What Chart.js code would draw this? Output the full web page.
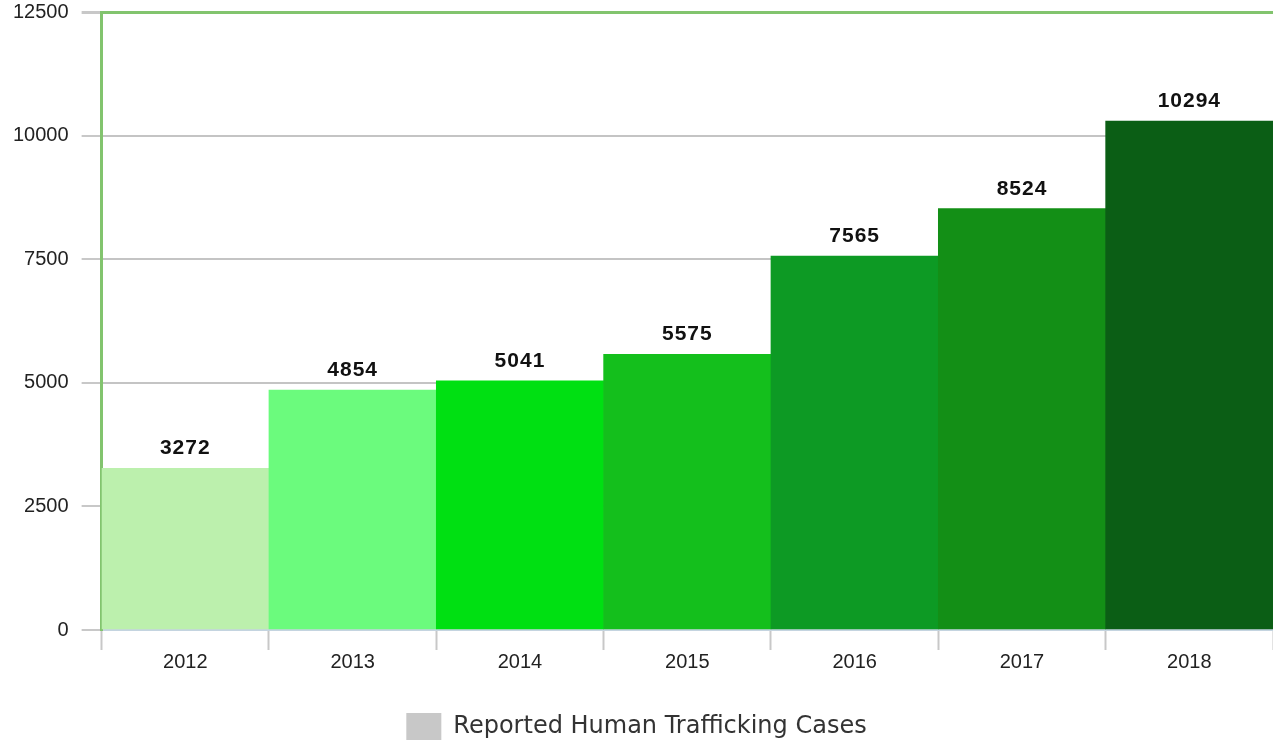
<!DOCTYPE html>
<html>
<head>
<meta charset="utf-8">
<script src="https://cdn.jsdelivr.net/npm/chart.js@4"></script>
<style>
    html, body { margin: 0; padding: 0; background: #fff; overflow: hidden; }
    #wrap { width: 1273px; height: 756px; margin-top: -13px; }
</style>
</head>
<body>
<div id="wrap"><canvas id="grafico"></canvas></div>
<script>
// Datos
const anios = ["2012", "2013", "2014", "2015", "2016", "2017", "2018"];
const casos = [3272, 4854, 5041, 5575, 7565, 8524, 10294];
const coloresBarras = ["#bcf0ad", "#6bfb7d", "#00e012", "#14bf1c", "#0d9a24", "#138f16", "#0b5e15"];
const ticksY = [0, 2500, 5000, 7500, 10000, 12500];
const nombreSerie = "Reported Human Trafficking Cases";

/*******************************************************************************/
// Etiquetas encima de las barras

const etiquetasBarras = {
    id: "etiquetasBarras",
    afterDatasetsDraw(chart) {
        const ctx = chart.ctx;
        const meta = chart.getDatasetMeta(0);
        ctx.save();
        ctx.font = "bold 21px 'Liberation Sans', Arial, sans-serif";
        ctx.letterSpacing = "1px";
        ctx.fillStyle = "#111";
        ctx.textAlign = "center";
        ctx.textBaseline = "alphabetic";
        meta.data.forEach((barra, i) => {
            ctx.fillText(String(casos[i]), barra.x, barra.y - 14);
        });
        ctx.restore();
    }
};

/*******************************************************************************/
// Grafico

const verde = "#82c46e";

new Chart(document.getElementById("grafico"), {
    type: "bar",
    data: {
        labels: anios,
        datasets: [{
            label: nombreSerie,
            data: casos,
            backgroundColor: coloresBarras,
            barPercentage: 1,
            categoryPercentage: 1,
            borderWidth: 0
        }]
    },
    options: {
        responsive: true,
        maintainAspectRatio: false,
        animation: false,
        layout: { padding: { top: 0, right: 0, left: 0, bottom: -7 } },
        plugins: {
            tooltip: { enabled: false },
            legend: {
                position: "bottom",
                labels: {
                    generateLabels: () => [{
                        text: nombreSerie,
                        fillStyle: "#c8c8c8",
                        strokeStyle: "#c8c8c8",
                        lineWidth: 0,
                        fontColor: "#333"
                    }],
                    boxWidth: 35,
                    boxHeight: 27,
                    padding: 3,
                    color: "#333",
                    font: { family: "'DejaVu Sans', sans-serif", size: 24 }
                }
            }
        },
        scales: {
            x: {
                afterFit: (eje) => { eje.height = 80; },
                grid: {
                    offset: true,
                    drawOnChartArea: false,
                    tickLength: 20,
                    tickColor: "#c8c8c8",
                    tickWidth: 2
                },
                border: { color: "#c4d4e0", width: 2 },
                ticks: {
                    color: "#222",
                    padding: 0,
                    font: { family: "'Liberation Sans', Arial, sans-serif", size: 20 }
                }
            },
            y: {
                min: 0,
                max: 12500,
                afterBuildTicks: (eje) => {
                    eje.ticks = ticksY.map((v) => ({ value: v }));
                },
                grid: {
                    color: (c) => (c.tick && c.tick.value === 12500 ? verde : "#c4c4c4"),
                    lineWidth: (c) => (c.tick && c.tick.value === 12500 ? 3 : 2),
                    tickLength: 20,
                    tickColor: "#c8c8c8"
                },
                border: { color: verde, width: 3 },
                ticks: {
                    color: "#222",
                    padding: 13,
                    callback: (v) => String(v),
                    font: { family: "'Liberation Sans', Arial, sans-serif", size: 20 }
                }
            }
        }
    },
    plugins: [etiquetasBarras]
});
</script>
</body>
</html>
